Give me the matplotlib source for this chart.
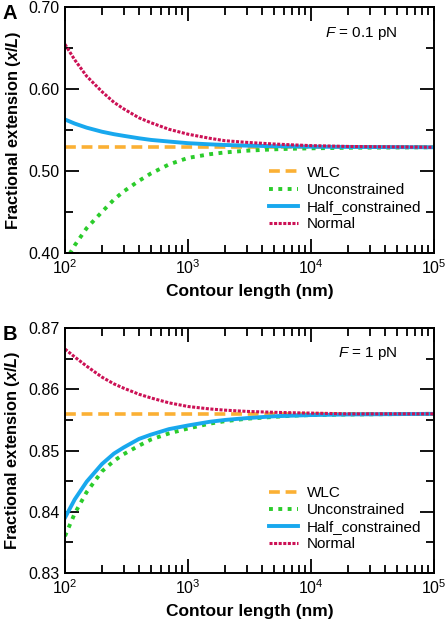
import matplotlib
matplotlib.use("Agg")
import matplotlib.pyplot as plt
from matplotlib.ticker import MultipleLocator, LogLocator, NullFormatter

plt.rcParams['font.family'] = ['Liberation Sans', 'DejaVu Sans']
plt.rcParams['mathtext.fontset'] = 'custom'
plt.rcParams['mathtext.it'] = 'Liberation Sans:italic'
plt.rcParams['mathtext.bfit'] = 'Liberation Sans:italic:bold'

# contour length (nm)
contour = [100, 120, 150, 200, 250, 300, 400, 500, 700, 1000, 1500, 2000,
           3000, 5000, 7000, 10000, 20000, 100000]

# panel A, F = 0.1 pN
wlc_a = [0.529] * len(contour)
uncon_a = [0.389, 0.409, 0.430, 0.450, 0.465, 0.475, 0.488, 0.497, 0.508, 0.516,
           0.5205, 0.5227, 0.5248, 0.5265, 0.5272, 0.5277, 0.5284, 0.529]
half_a = [0.563, 0.558, 0.553, 0.548, 0.545, 0.543, 0.540, 0.538, 0.536, 0.534,
          0.5326, 0.5318, 0.531, 0.5303, 0.530, 0.5297, 0.5294, 0.529]
normal_a = [0.655, 0.636, 0.616, 0.597, 0.584, 0.576, 0.565, 0.559, 0.551, 0.545,
            0.540, 0.537, 0.535, 0.533, 0.532, 0.531, 0.530, 0.529]

# panel B, F = 1 pN
wlc_b = [0.856] * len(contour)
uncon_b = [0.8360, 0.8397, 0.8432, 0.8466, 0.8483, 0.8494, 0.8508, 0.8518, 0.8528,
           0.8536, 0.8544, 0.8548, 0.8552, 0.8555, 0.8557, 0.8558, 0.8559, 0.8560]
half_b = [0.8390, 0.8420, 0.8449, 0.8478, 0.8495, 0.8505, 0.8519, 0.8526, 0.8535,
          0.8541, 0.8547, 0.8550, 0.8553, 0.8556, 0.8557, 0.8558, 0.8559, 0.8560]
normal_b = [0.8666, 0.8653, 0.8638, 0.8620, 0.8609, 0.8602, 0.8592, 0.8586, 0.8578,
            0.8572, 0.8568, 0.8566, 0.8564, 0.85625, 0.85618, 0.85612, 0.8560, 0.8560]

c_wlc = '#FBB034'
c_uncon = '#2BCC2B'
c_half = '#18A8EE'
c_normal = '#CC1155'


def panel(ax, wlc, uncon, half, normal, ylim, ystep, force, letter):
    ax.plot(contour, wlc, color=c_wlc, lw=2.6, ls=(0, (3, 1.6)), label='WLC')
    ax.plot(contour, uncon, color=c_uncon, lw=2.8, ls=(0, (1, 1.4)), label='Unconstrained')
    ax.plot(contour, half, color=c_half, lw=2.8, ls='-', label='Half_constrained')
    ax.plot(contour, normal, color=c_normal, lw=2.2, ls=(0, (1, 0.5)), label='Normal')
    ax.set_xscale('log')
    ax.set_xlim(100, 100000)
    ax.set_ylim(*ylim)
    ax.yaxis.set_major_locator(MultipleLocator(ystep))
    ax.yaxis.set_minor_locator(MultipleLocator(ystep / 2))
    ax.yaxis.set_major_formatter(plt.FormatStrFormatter('%.2f'))
    ax.xaxis.set_minor_locator(LogLocator(base=10, subs=range(2, 10)))
    ax.xaxis.set_minor_formatter(NullFormatter())
    ax.tick_params(which='both', direction='in', top=True, right=True, width=1.3,
                   labelsize=11.5, pad=4)
    ax.tick_params(which='major', length=10)
    ax.tick_params(which='minor', length=6)
    for s in ax.spines.values():
        s.set_linewidth(1.4)
    ax.set_xlabel('Contour length (nm)', fontsize=12.5, fontweight='bold', labelpad=5)
    ax.set_ylabel(r'Fractional extension ($\mathbfit{x}$/$\mathbfit{L}$)',
                  fontsize=11.8, fontweight='bold', labelpad=4)
    ax.text(0.9, 0.895, r'$F$ = ' + force, transform=ax.transAxes, ha='right',
            va='center', fontsize=11)
    ax.text(-0.17, 1.013, letter, transform=ax.transAxes, ha='left', va='top',
            fontsize=14.5, fontweight='bold')
    ax.legend(loc='lower right', bbox_to_anchor=(0.995, 0.045), frameon=False,
              fontsize=11, handlelength=1.9, handletextpad=0.6, labelspacing=0.2,
              borderaxespad=0.3)


fig = plt.figure(figsize=(4.48, 6.24), dpi=100)
ax1 = fig.add_axes([0.145, 0.595, 0.824, 0.393])
ax2 = fig.add_axes([0.145, 0.082, 0.824, 0.392])

panel(ax1, wlc_a, uncon_a, half_a, normal_a, (0.40, 0.70), 0.10, '0.1 pN', 'A')
panel(ax2, wlc_b, uncon_b, half_b, normal_b, (0.83, 0.87), 0.01, '1 pN', 'B')

fig.savefig('out.png', dpi=100)
